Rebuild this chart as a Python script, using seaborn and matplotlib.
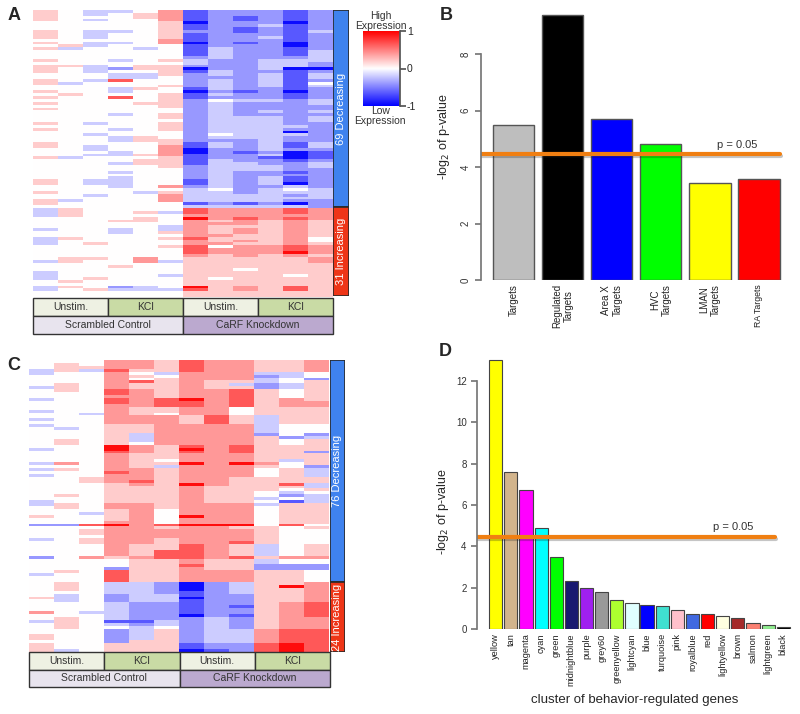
import matplotlib.patheffects as pe
import matplotlib.pyplot as plt
import numpy as np
import pandas as pd
import seaborn as sns
from matplotlib.colors import LinearSegmentedColormap

sns.set_theme(style="ticks")
plt.rcParams["font.family"] = ["Liberation Sans", "DejaVu Sans"]

# ──── DATA ───────────────────────────────────────────────────────────────────

# heatmap cells, one character per cell
# (a-d = increasingly blue, 1-4 = increasingly red, 0 = white)
level = {"d": -0.95, "c": -0.65, "b": -0.4, "a": -0.2, "0": 0.0,
         "1": 0.2, "2": 0.4, "3": 0.65, "4": 0.95}

a_rows = [
    "10aa02cbbbcb", "10a012cbbbcb", "100012cbcbcb", "10a002cbcbcb", "000001dbbbdb",
    "000001cbbacb", "000001cbcbcb", "10aa01bbcbca", "10a001cbbbcb", "10a001cbbacb",
    "000002cbbbcb", "10aa02dbcbdb", "01a000cbbbdb", "1a00a0cabbcb", "000000cabbca",
    "000000cabbca", "000000babbba", "100a01abbaaa", "000000abbaab", "11a011bbbaab",
    "10ab11dbbadd", "10a001cabbcb", "000aa1babaca", "000aa0bbbaca", "10a300babacb",
    "1a0000babac0", "000001babaca", "000a10cabbcb", "100a00dbcbdb", "010001cabbcb",
    "100301cbbbcb", "000001b0aaba", "100011babbba", "000001babbbb", "100000babbbb",
    "000000bababa", "000a01babbbb", "000001baaaba", "000000baaaba", "10a001baaabb",
    "000001baaaab", "100a01baaabb", "000000baaadb", "00a000b0aaab", "000a10baaabb",
    "000a11bbbabb", "100001cabaca", "10a002cabaca", "00a002dbbabb", "000a02dbcbdc",
    "00aa12cbbadc", "1a0001cbbcdc", "000011cabbcb", "000a11caabba", "000001baaaba",
    "000000baaabb", "000a00babbcb", "000000babbbb", "000a00babacb", "10aa00cabacb",
    "10aa00cabadb", "000a02babbab", "000000a0ba0a", "1000a1aabaaa", "00a002aaaaba",
    "000002aaaaaa", "1a0002aaaabb", "100000cbcbdb", "000000aaaaab",
    "a10000322232", "a1001a322232", "a10000222222", "000010423232", "000110212121",
    "000000222121", "00000a211121", "a00a0a212121", "000a01212121", "000000221121",
    "a10001311120", "a00000212120", "a01000221121", "000001302232", "000000322232",
    "000000322242", "000000212121", "011020111112", "a1002a111112", "000000111111",
    "000100111111", "000000110111", "a00000111111", "a0000a111101", "a01000101111",
    "010000111111", "000000111111", "a10ba0412131", "a01aaa312131", "000000111111",
    "000000111111",
]

c_rows = [
    "000221322112", "010221322112", "011221322112", "a1a311322112", "a0020a222aa0",
    "000210222ba0", "000201222a0b", "000231211a01", "01021121aba1", "a10211211ba1",
    "010321223101", "000321223101", "000221223101", "a00323423121", "000323323122",
    "000223323122", "000211220111", "a00211220111", "00a210220111", "000222131a11",
    "a00222131a11", "000222131a11", "a00112222a00", "0a0112222a00", "000112222a00",
    "0001a2222b0b", "0001a22221ba", "0101a2222101", "010102222101", "000421323111",
    "a00421423111", "00032132311b", "000211222111", "000211222111", "0002102221a1",
    "a20211424201", "00021a22210b", "a1022122201a", "00032122201a", "a0022122201a",
    "001221221111", "001231221111", "00012142113a", "00011121111a", "000111211101",
    "0001112110a0", "0101112110ba", "000111211a0a", "a001112110ca", "a10221222a11",
    "010221222011", "000120222011", "00a120222011", "100120422011", "000120222011",
    "000220222011", "bb3423444030", "000221221101", "001222222100", "001222222100",
    "000222222100", "a01221222100", "001221223100", "000211321a01", "000211321a01",
    "000213321a01", "000213321a01", "b02123323122", "000011211a00", "000011211a00",
    "000011311bbb", "000b11211bbb", "010311222110", "a00311222110", "000311222110",
    "000311222110",
    "010aabdba112", "010aabdba142", "010aabdba112", "000aabcba112", "0a0baacbb112",
    "1a0baadbb112", "0a0baacbb112", "000abbcbb123", "000abbcbc123", "000abbcbb123",
    "20aabbcbb123", "000abbdbc123", "010abbbab122", "a10ccabab122", "010ababab122",
    "0100a0bab122", "000ba1baa233", "000ba1baa233", "100ba1baa233", "100ba1baa233",
    "000b11baa233", "100111cbb343", "100111cbb343", "1a0111dcb343",
]

a_groups = [69, 31]
c_groups = [76, 24]
group_names = ["Decreasing", "Increasing"]
conditions = ["Unstim.", "KCl", "Unstim.", "KCl"]
treatments = ["Scrambled Control", "CaRF Knockdown"]

b_labels = ["Targets", "Regulated\nTargets", "Area X\nTargets", "HVC\nTargets",
            "LMAN\nTargets", "RA Targets"]
b_values = [5.5, 9.4, 5.72, 4.8, 3.45, 3.57]
b_colors = ["#bebebe", "#000000", "#0000ff", "#00ff00", "#ffff00", "#ff0000"]

d_labels = ["yellow", "tan", "magenta", "cyan", "green", "midnightblue", "purple",
            "grey60", "greenyellow", "lightcyan", "blue", "turquoise", "pink",
            "royalblue", "red", "lightyellow", "brown", "salmon", "lightgreen", "black"]
d_values = [13.0, 7.6, 6.7, 4.9, 3.5, 2.32, 2.0, 1.77, 1.4, 1.24, 1.16, 1.09, 0.9,
            0.71, 0.71, 0.63, 0.55, 0.3, 0.2, 0.12]
d_colors = ["#ffff00", "#d2b48c", "#ff00ff", "#00ffff", "#00ff00", "#191970", "#a020f0",
            "#999999", "#adff2f", "#e0ffff", "#0000ff", "#40e0d0", "#ffc0cb", "#4169e1",
            "#ff0000", "#ffffe0", "#a52a2a", "#fa8072", "#90ee90", "#000000"]

p_line = 4.45  # drawn threshold for p = 0.05

# ──── STYLE ──────────────────────────────────────────────────────────────────

expr_cmap = LinearSegmentedColormap.from_list("expr", ["#0000ff", "#ffffff", "#ff0000"])
side_colors = ["#3f82ee", "#ee3517"]
cond_colors = ["#eef1e3", "#c9dba5"]
treat_colors = ["#e8e4ee", "#bba9cf"]
orange = "#f07f12"
line_fx = [pe.SimpleLineShadow(offset=(0.5, -1.5), alpha=0.25), pe.Normal()]

fig = plt.figure(figsize=(8, 7.14), dpi=100)


def px(x0, y0, x1, y1):
    """Pixel box on the 800x714 canvas -> figure fraction rect."""
    return [x0 / 800, 1 - y1 / 714, (x1 - x0) / 800, (y1 - y0) / 714]


def draw_heatmap(rows, groups, hm_box, side_box, ann_box):
    mat = pd.DataFrame([[level[ch] for ch in r] for r in rows])
    ax = fig.add_axes(px(*hm_box))
    sns.heatmap(mat, ax=ax, cmap=expr_cmap, vmin=-1, vmax=1, cbar=False,
                xticklabels=False, yticklabels=False)

    # up / down bar on the right
    ax_side = fig.add_axes(px(*side_box))
    bottoms = np.cumsum([0] + groups[:-1])
    for b, n, col, name in zip(bottoms, groups, side_colors, group_names):
        ax_side.bar(0, n, bottom=b, width=1, color=col, edgecolor="#2a2a2a", linewidth=1.2)
        ax_side.text(0, b + n / 2, f"{n} {name}", rotation=90, color="white",
                     ha="center", va="center", fontsize=8)
    ax_side.set_xlim(-0.5, 0.5)
    ax_side.set_ylim(len(rows), 0)
    ax_side.axis("off")

    # condition / treatment boxes underneath
    ax_ann = fig.add_axes(px(*ann_box))
    ncol = mat.shape[1]
    w_cond = ncol / len(conditions)
    for i, cond in enumerate(conditions):
        ax_ann.bar(i * w_cond, 1, bottom=1, width=w_cond, align="edge", color=cond_colors[i % 2],
                   edgecolor="#333333", linewidth=1, clip_on=False)
        ax_ann.text(i * w_cond + w_cond / 2, 1.5, cond, ha="center", va="center", fontsize=7.5, color="#333")
    w_treat = ncol / len(treatments)
    for j, tr in enumerate(treatments):
        ax_ann.bar(j * w_treat, 1, bottom=0, width=w_treat, align="edge", color=treat_colors[j],
                   edgecolor="#333333", linewidth=1, clip_on=False)
        ax_ann.text(j * w_treat + w_treat / 2, 0.5, tr, ha="center", va="center", fontsize=7.5, color="#333")
    ax_ann.set_xlim(0, ncol)
    ax_ann.set_ylim(0, 2)
    ax_ann.axis("off")


# ──── PANEL A / C : HEATMAPS ─────────────────────────────────────────────────

draw_heatmap(a_rows, a_groups, (33, 10, 333, 297), (333, 10, 349, 296), (33, 298, 333, 334))
draw_heatmap(c_rows, c_groups, (29, 360, 329, 652), (330, 360, 345, 652), (29, 652, 330, 687))

# colour key
cax = fig.add_axes(px(363, 31, 400, 106))
cax.imshow(np.linspace(1, -1, 256)[:, None], cmap=expr_cmap, vmin=-1, vmax=1,
           extent=[0, 1, -1, 1], aspect="auto")
cax.set_xticks([])
cax.yaxis.tick_right()
cax.set_yticks([1, 0, -1])
cax.set_yticklabels(["1", "0", "-1"])
cax.tick_params(axis="y", length=4, labelsize=7.5, color="#555", pad=1)
for s in ["top", "left", "bottom"]:
    cax.spines[s].set_visible(False)
cax.spines["right"].set_color("#555")
key_text = dict(ha="center", va="center", fontsize=7.5, color="#333")
fig.text(381 / 800, 1 - 16 / 714, "High", **key_text)
fig.text(381 / 800, 1 - 26 / 714, "Expression", **key_text)
fig.text(381 / 800, 1 - 111 / 714, "Low", **key_text)
fig.text(380 / 800, 1 - 121 / 714, "Expression", **key_text)

# ──── PANEL B ────────────────────────────────────────────────────────────────

ax_b = fig.add_axes(px(481, 9, 785, 280))
sns.barplot(x=b_labels, y=b_values, hue=b_labels, palette=b_colors, legend=False,
            width=0.84, saturation=1, edgecolor="#555555", linewidth=1, ax=ax_b)
ax_b.set_xlim(-0.665, 5.53)
ax_b.set_ylim(0, 9.6)
ax_b.axhline(p_line, xmax=0.984, color=orange, lw=3, path_effects=line_fx)
ax_b.text(4.56, 4.8, "p = 0.05", ha="center", va="center", fontsize=8, color="#333")
sns.despine(ax=ax_b, bottom=True)
ax_b.spines["left"].set_bounds(0, 8)
ax_b.spines["left"].set_color("#777")
ax_b.set_yticks(range(0, 9, 2))
ax_b.tick_params(axis="y", length=4, color="#777", labelsize=7, labelcolor="#333")
plt.setp(ax_b.get_yticklabels(), rotation=90, va="center")
ax_b.tick_params(axis="x", length=0, labelsize=7, labelcolor="#222", pad=3)
plt.setp(ax_b.get_xticklabels(), rotation=90, va="top", ha="center")
ax_b.get_xticklabels()[-1].set_fontsize(6.3)
ax_b.set_ylabel("-log$_2$ of p-value", fontsize=9)
ax_b.yaxis.set_label_coords(-0.095, 0.53)

# ──── PANEL D ────────────────────────────────────────────────────────────────

ax_d = fig.add_axes(px(477, 356, 793, 629))
sns.barplot(x=d_labels, y=d_values, hue=d_labels, palette=d_colors, legend=False,
            width=0.87, saturation=1, edgecolor="#444444", linewidth=0.8, ax=ax_d)
ax_d.set_xlim(-1.235, 19.64)
ax_d.set_ylim(0, 13.2)
ax_d.axhline(p_line, xmax=0.943, color=orange, lw=3, path_effects=line_fx)
ax_d.text(15.7, 4.95, "p = 0.05", ha="center", va="center", fontsize=8, color="#333")
sns.despine(ax=ax_d, bottom=True)
ax_d.spines["left"].set_bounds(0, 12)
ax_d.spines["left"].set_color("#777")
ax_d.set_yticks(range(0, 13, 2))
ax_d.tick_params(axis="y", length=4, color="#777", labelsize=7, labelcolor="#333")
ax_d.tick_params(axis="x", length=0, labelsize=6.7, labelcolor="#222", pad=3)
plt.setp(ax_d.get_xticklabels(), rotation=90, va="top", ha="center")
ax_d.set_xlabel("cluster of behavior-regulated genes", fontsize=9.5, labelpad=6)
ax_d.set_ylabel("-log$_2$ of p-value", fontsize=9)
ax_d.yaxis.set_label_coords(-0.082, 0.43)

# panel letters
for letter, (x, y) in {"A": (14, 15), "B": (446, 15), "C": (14, 366), "D": (445, 352)}.items():
    fig.text(x / 800, 1 - y / 714, letter, fontsize=13, fontweight="bold", ha="center", va="center")

fig.savefig("out.png", dpi=100)
